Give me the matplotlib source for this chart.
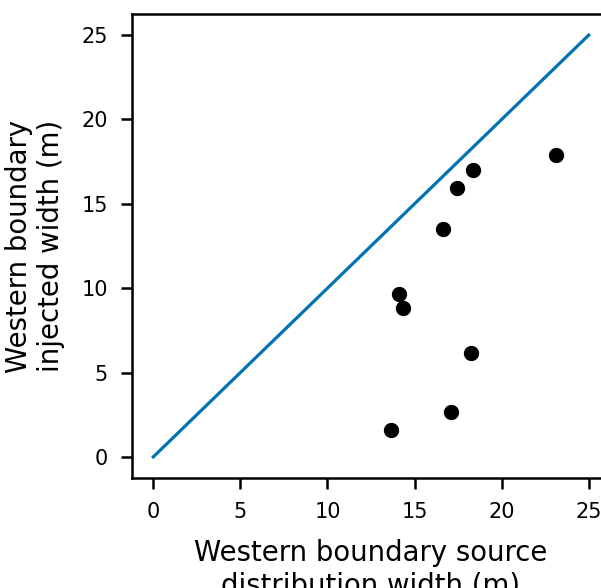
import matplotlib
matplotlib.use("Agg")
import matplotlib.pyplot as plt

## data
source_width = [13.66, 17.09, 18.26, 14.35, 14.10, 16.63, 17.41, 18.35, 23.14]
injected_width = [1.58, 2.66, 6.17, 8.83, 9.65, 13.48, 15.94, 17.00, 17.89]
one_to_one = [0, 25]
ticks = [0, 5, 10, 15, 20, 25]

fig = plt.figure(figsize=(6.01, 5.88), dpi=100)
# axes run past the right edge, as in the reference (cropped figure)
ax = fig.add_axes([131.5 / 601, 110 / 588, 479 / 601, 464 / 588])

ax.plot(one_to_one, one_to_one, color="#0173B2", lw=2.3, zorder=2)
ax.plot(source_width, injected_width, "o", color="black", ms=10, zorder=3)

ax.set_xlim(-1.25, 26.25)
ax.set_ylim(-1.25, 26.25)
ax.set_xticks(ticks)
ax.set_yticks(ticks)

for side in ["left", "bottom", "top"]:
    ax.spines[side].set_linewidth(1.8)
ax.spines["right"].set_visible(False)
ax.tick_params(axis="both", which="major", length=8, width=1.8, labelsize=15, pad=9)

ax.set_xlabel("Western boundary source\ndistribution width (m)", fontsize=19.8, labelpad=12.5)
ax.set_ylabel("Western boundary\ninjected width (m)", fontsize=19.8, labelpad=11.5)

fig.savefig("out.png", dpi=100)
